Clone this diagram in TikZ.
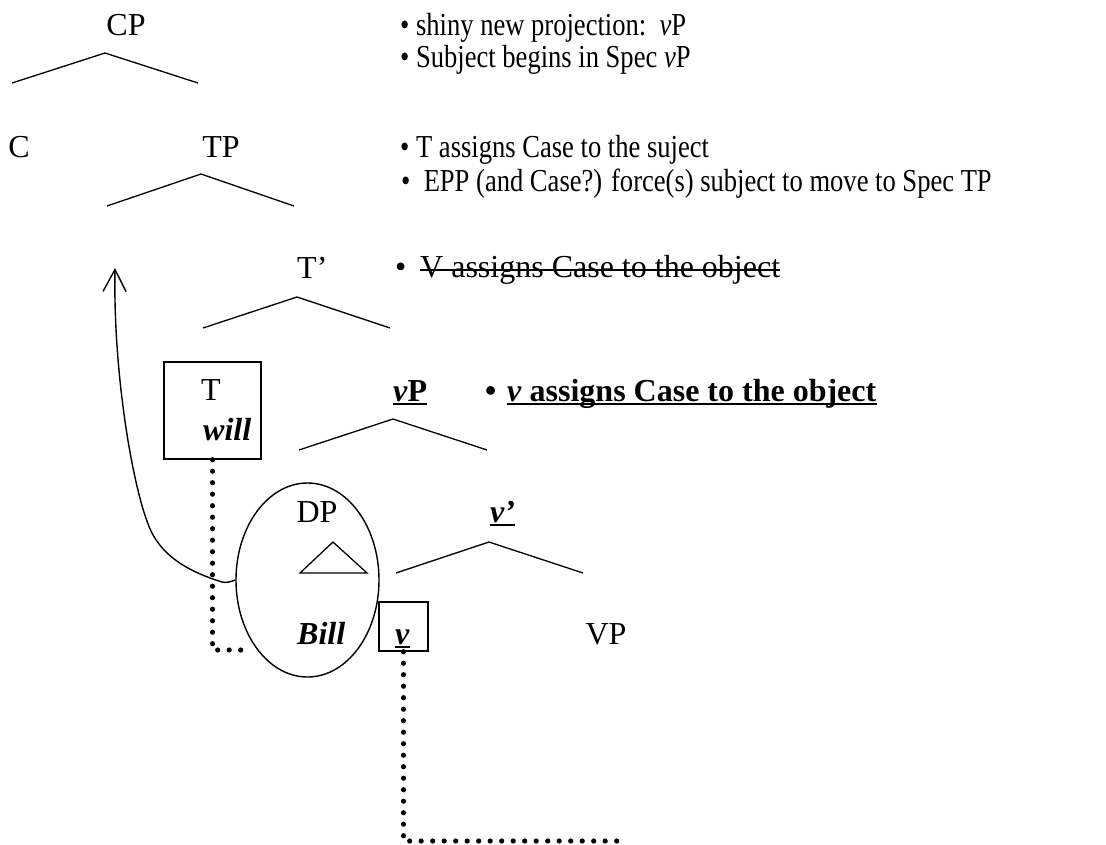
\documentclass[tikz,border=0pt]{standalone}
\usepackage{fontspec}
\setmainfont{Liberation Serif}
\newfontfamily\narrowfont[FakeStretch=0.83]{Liberation Serif}
\usetikzlibrary{shapes.geometric,arrows.meta}
\tikzset{
  lbl/.style={inner sep=0pt, anchor=base, font=\fontsize{32}{38}\selectfont},
  lblw/.style={inner sep=0pt, anchor=base west, font=\fontsize{32}{38}\selectfont},
  note/.style={inner sep=0pt, anchor=base west, font=\narrowfont\fontsize{32}{38}\selectfont},
  branch/.style={line width=1.3pt},
  rule/.style={line width=1.8pt},
  frame/.style={draw, line width=1.4pt, inner sep=0pt},
  dots/.style={line width=5.2pt, dash pattern=on 0pt off 11.5pt, line cap=round},
  move/.style={line width=1.4pt, -{Straight Barb[length=22pt,width=23pt,line width=1.4pt]}}
}
\begin{document}
\begin{tikzpicture}[x=1pt,y=-1pt]
\useasboundingbox (0,0) rectangle (1106,844);
% tree labels
\node[lbl] (cp) at (126,35) {CP};
\node[lbl] (c) at (19,157) {C};
\node[lbl] (tp) at (221,157) {TP};
\node[lblw] (tbar) at (297,278) {T’};
\node[lblw] (vp) at (393,401) {\textbf{\textit{v}P}};
\node[lbl] (dplbl) at (317,522) {DP};
\node[lblw] (vbar) at (490,522) {\textbf{\textit{v’}}};
\node[lbl] (vpp) at (606,644) {VP};
% boxes and ellipse
\node[frame, minimum width=97pt, minimum height=97pt] (tbox) at (212.5,410.5) {};
\node[lblw] (tlbl) at (201,400) {T};
\node[lblw] (will) at (203,440) {\textbf{\textit{will}}};
\node[frame, ellipse, minimum width=143pt, minimum height=194pt] (dp) at (307.5,580) {};
\node[lblw] (bill) at (297,644) {\textbf{\textit{Bill}}};
\node[frame, minimum width=49pt, minimum height=49pt] (vbox) at (403.5,626.5) {};
\node[lblw] (vlbl) at (395,644) {\textbf{\textit{v}}};
% underlines
\draw[rule] ([yshift=-3pt]vp.base west) -- ([yshift=-3pt]vp.base east);
\draw[rule] ([yshift=-3pt]vbar.base west) -- ([yshift=-3pt]vbar.base east);
\draw[rule] ([yshift=-3pt]vlbl.base west) -- ([yshift=-3pt]vlbl.base east);
% branches
\draw[branch] (12,83) -- (105,53) -- (198,83);
\draw[branch] (107,206) -- (201,174) -- (294,206);
\draw[branch] (203,328) -- (297,297) -- (390,328);
\draw[branch] (299,450) -- (393,419) -- (487,450);
\draw[branch] (396,573) -- (489,542) -- (583,573);
\draw[line width=1.3pt] (300,573) -- (333,542) -- (367,573) -- cycle;
% dotted connectors
\coordinate (e1) at (252,650);
\coordinate (e2) at (619,841);
\draw[dots] (tbox.south) |- (e1);
\draw[dots] (vbox.south) |- (e2);
% movement arrow
\coordinate (tip) at (115,268);
\draw[move] (dp.west) .. controls (230,582) and (226,583) .. (222,582)
  .. controls (190,572) and (165,558) .. (152,533)
  .. controls (135,500) and (113,380) .. (tip);
% notes
\node[note] (n1) at (400,35) {• shiny new projection:\ \ \textit{v}P};
\node[note] (n2) at (400,67) {• Subject begins in Spec \textit{v}P};
\node[note] (n3) at (400,157) {• T assigns Case to the suject};
\node[note] (n4) at (401,191) {•\ \ EPP (and Case?) force(s) subject to move to Spec TP};
\node[lblw] (b5) at (395,277) {•};
\node[lblw] (n5) at (420,277) {V assigns Case to the object};
\draw[branch] ([yshift=7pt]n5.base west) -- ([yshift=7pt]n5.base east);
\node[lblw] (b6) at (485,401) {\textbf{•}};
\node[lblw] (n6) at (507,401) {\textbf{\textit{v} assigns Case to the object}};
\draw[rule] ([yshift=-3pt]n6.base west) -- ([yshift=-3pt]n6.base east);
\end{tikzpicture}
\end{document}
